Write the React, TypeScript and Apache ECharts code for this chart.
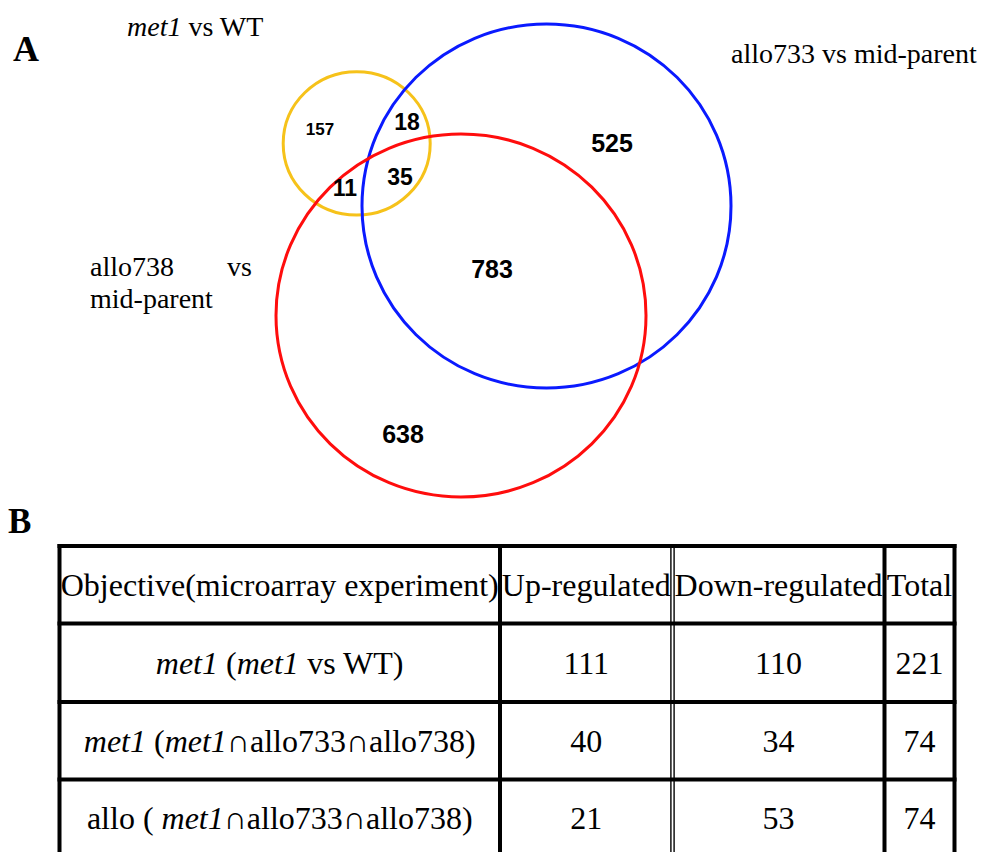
import React, { useEffect, useRef } from "react";
import * as echarts from "echarts";

// ---------- data ----------
const SET_NAMES = ["met1 vs WT", "allo733 vs mid-parent", "allo738 vs mid-parent"];
const REGION_NAMES = [
  "met1 only",
  "met1 ∩ allo733",
  "met1 ∩ allo733 ∩ allo738",
  "met1 ∩ allo738",
  "allo733 only",
  "allo733 ∩ allo738",
  "allo738 only",
];
const REGION_COUNTS = [157, 18, 35, 11, 525, 783, 638];

const TABLE_HEADERS = ["Objective(microarray experiment)", "Up-regulated", "Down-regulated", "Total"];
const ROW_LABELS = [
  "{i|met1} ({i|met1} vs WT)",
  "{i|met1} ({i|met1}∩allo733∩allo738)",
  "allo ( {i|met1}∩allo733∩allo738)",
];
const UP_REGULATED = [111, 40, 21];
const DOWN_REGULATED = [110, 34, 53];
const TOTALS = [221, 74, 74];

// ---------- layout (pixel space of the hidden axes) ----------
const CIRCLES = [
  { cx: 356.7, cy: 143.4, rx: 73.5, ry: 71.7, color: "#f6c21a" },
  { cx: 546.5, cy: 206, rx: 184.5, ry: 182, color: "#0a1aff" },
  { cx: 461, cy: 315.5, rx: 185, ry: 181.5, color: "#ff0d0d" },
];
const REGION_POS = [
  [320, 129, 17],
  [407, 122, 23],
  [400, 177, 23],
  [345, 188, 23],
  [612, 143, 25],
  [492, 269, 25],
  [403, 434, 25],
];
const COL_EDGES = [59.5, 500, 672.5, 884.5, 954.5];
const ROW_EDGES = [546, 623.5, 702, 779.5, 857];

const SERIF = "Liberation Serif";
const SANS = "Liberation Sans";
const TABLE_FONT = 32;
const LABEL_FONT = 28;

export default function App() {
  const ref = useRef<HTMLDivElement>(null);

  useEffect(() => {
    if (!ref.current) return;
    const chart = echarts.init(ref.current, undefined, { renderer: "svg" });

    const colCenters = COL_EDGES.slice(0, -1).map((e, i) => (e + COL_EDGES[i + 1]) / 2);
    const rowCenters = ROW_EDGES.slice(0, -1).map((e, i) => (e + ROW_EDGES[i + 1]) / 2);

    const cells: { value: number[]; text: string }[] = [];
    TABLE_HEADERS.forEach((h, c) => cells.push({ value: [colCenters[c], rowCenters[0]], text: h }));
    ROW_LABELS.forEach((label, r) => {
      const vals = [label, String(UP_REGULATED[r]), String(DOWN_REGULATED[r]), String(TOTALS[r])];
      vals.forEach((t, c) => cells.push({ value: [colCenters[c], rowCenters[r + 1]], text: t }));
    });

    const lineStyle = { stroke: "#000", lineWidth: 4 };
    const tableLines: any[] = [];
    ROW_EDGES.slice(0, 4).forEach((y) =>
      tableLines.push({
        type: "line",
        shape: { x1: COL_EDGES[0] - 2, y1: y, x2: COL_EDGES[4] + 2, y2: y },
        style: lineStyle,
        silent: true,
      })
    );
    [COL_EDGES[0], COL_EDGES[1], COL_EDGES[3], COL_EDGES[4]].forEach((x) =>
      tableLines.push({
        type: "line",
        shape: { x1: x, y1: ROW_EDGES[0] - 2, x2: x, y2: 852 },
        style: lineStyle,
        silent: true,
      })
    );
    [COL_EDGES[2] - 1.6, COL_EDGES[2] + 1.6].forEach((x) =>
      tableLines.push({
        type: "line",
        shape: { x1: x, y1: ROW_EDGES[0], x2: x, y2: 852 },
        style: { stroke: "#000", lineWidth: 1.4 },
        silent: true,
      })
    );

    const words738 = SET_NAMES[2].split(" ");
    const labelStyle = { fontFamily: SERIF, fontSize: LABEL_FONT, fill: "#000", verticalAlign: "middle" };

    const option: any = {
      animation: false,
      grid: { left: 0, top: 0, right: 0, bottom: 0 },
      xAxis: { type: "value", min: 0, max: 981, show: false },
      yAxis: { type: "value", min: 0, max: 852, inverse: true, show: false },
      graphic: [
        { type: "text", style: { text: "A", x: 13, y: 49, fontFamily: SERIF, fontSize: 36, fontWeight: "bold", fill: "#000", verticalAlign: "middle" } },
        { type: "text", style: { text: "B", x: 8, y: 521, fontFamily: SERIF, fontSize: 35, fontWeight: "bold", fill: "#000", verticalAlign: "middle" } },
        {
          type: "text",
          style: {
            ...labelStyle,
            x: 127,
            y: 26,
            text: SET_NAMES[0].replace("met1", "{i|met1}"),
            rich: { i: { fontFamily: SERIF, fontSize: LABEL_FONT, fontStyle: "italic", fill: "#000" } },
          },
        },
        { type: "text", style: { ...labelStyle, x: 731, y: 53, text: SET_NAMES[1] } },
        { type: "text", style: { ...labelStyle, x: 90, y: 266, text: words738[0] } },
        { type: "text", style: { ...labelStyle, x: 252, y: 266, text: words738[1], align: "right" } },
        { type: "text", style: { ...labelStyle, x: 90, y: 298, text: words738[2] } },
        ...tableLines,
      ],
      series: [
        {
          type: "custom",
          name: "sets",
          data: CIRCLES.map((c, i) => ({ name: SET_NAMES[i], value: [c.cx, c.cy, c.rx, c.ry] })),
          renderItem: (params: any, api: any) => {
            const c = CIRCLES[params.dataIndex];
            const p = api.coord([api.value(0), api.value(1)]);
            const s = api.size([api.value(2), api.value(3)]);
            return {
              type: "ellipse",
              shape: { cx: p[0], cy: p[1], rx: s[0], ry: s[1] },
              style: { fill: "none", stroke: c.color, lineWidth: 3 },
            };
          },
        },
        {
          type: "custom",
          name: "regions",
          data: REGION_COUNTS.map((v, i) => ({ name: REGION_NAMES[i], value: [REGION_POS[i][0], REGION_POS[i][1], v] })),
          renderItem: (params: any, api: any) => {
            const p = api.coord([api.value(0), api.value(1)]);
            return {
              type: "text",
              x: p[0],
              y: p[1],
              style: {
                text: String(api.value(2)),
                fontFamily: SANS,
                fontWeight: "bold",
                fontSize: REGION_POS[params.dataIndex][2],
                fill: "#000",
                align: "center",
                verticalAlign: "middle",
              },
            };
          },
        },
        {
          type: "custom",
          name: "table",
          data: cells.map((c) => ({ value: c.value })),
          renderItem: (params: any, api: any) => {
            const p = api.coord([api.value(0), api.value(1)]);
            return {
              type: "text",
              x: p[0],
              y: p[1],
              style: {
                text: cells[params.dataIndex].text,
                fontFamily: SERIF,
                fontSize: TABLE_FONT,
                fill: "#000",
                align: "center",
                verticalAlign: "middle",
                rich: { i: { fontFamily: SERIF, fontSize: TABLE_FONT, fontStyle: "italic", fill: "#000" } },
              },
            };
          },
        },
      ],
    };
    chart.setOption(option);
    return () => chart.dispose();
  }, []);

  return <div ref={ref} style={{ position: "fixed", left: 0, top: 0, width: 981, height: 852, background: "#fff" }} />;
}
